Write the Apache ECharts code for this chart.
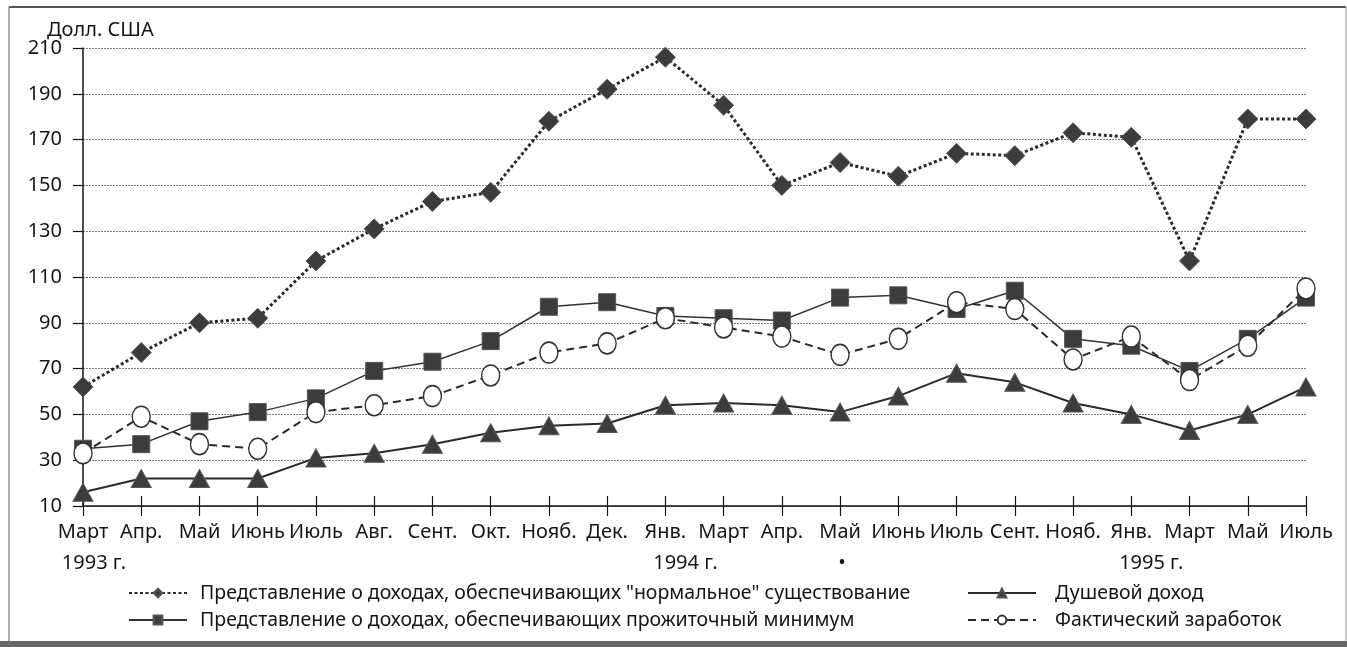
<!DOCTYPE html>
<html>
<head>
<meta charset="utf-8">
<script src="https://cdn.jsdelivr.net/npm/echarts@6/dist/echarts.min.js"></script>
<style>
html,body{margin:0;padding:0;background:#fff;}
#chart{width:1347px;height:647px;}
</style>
</head>
<body>
<div id="chart"></div>
<script>
const categories = ['Март','Апр.','Май','Июнь','Июль','Авг.','Сент.','Окт.','Нояб.','Дек.','Янв.','Март','Апр.','Май','Июнь','Июль','Сент.','Нояб.','Янв.','Март','Май','Июль'];
const yearLabels = {0:'1993 г.', 10:'1994 г.', 13:'•', 18:'1995 г.'};
const yTitle = 'Долл. США';

const seriesNames = [
  'Представление о доходах, обеспечивающих "нормальное" существование',
  'Представление о доходах, обеспечивающих прожиточный минимум',
  'Душевой доход',
  'Фактический заработок'
];
const normalIncome = [62,77,90,92,117,131,143,147,178,192,206,185,150,160,154,164,163,173,171,117,179,179];
const subsistenceIncome = [35,37,47,51,57,69,73,82,97,99,93,92,91,101,102,96,104,83,80,69,83,101];
const perCapitaIncome = [16,22,22,22,31,33,37,42,45,46,54,55,54,51,58,68,64,55,50,43,50,62];
const actualEarnings = [33,49,37,35,51,54,58,67,77,81,92,88,84,76,83,99,96,74,84,65,80,105];

const FONT = '"Noto Sans", sans-serif';
const INK = '#151515';
const MARK = '#3c3c3c';

const chart = echarts.init(document.getElementById('chart'), null, {renderer:'canvas'});

const option = {
  backgroundColor:'#fff',
  animation:false,
  textStyle:{fontFamily:FONT, color:INK},
  title:{
    text:yTitle, left:42, top:15,
    textStyle:{fontFamily:FONT, fontSize:20, fontWeight:'normal', color:INK}
  },
  grid:{left:83, right:41, top:48, bottom:141, containLabel:false},
  legend:[
    {
      left:123, top:578, orient:'vertical', itemGap:7, itemWidth:58, itemHeight:11,
      data:[seriesNames[0], seriesNames[1]],
      textStyle:{fontFamily:FONT, fontSize:19.5, color:INK, padding:[0,0,0,8]}
    },
    {
      left:962, top:578, orient:'vertical', itemGap:7, itemWidth:68, itemHeight:11,
      data:[seriesNames[2], seriesNames[3]],
      textStyle:{fontFamily:FONT, fontSize:19.5, color:INK, padding:[0,0,0,14]}
    }
  ],
  xAxis:[
    {
      type:'category', data:categories, boundaryGap:false,
      axisLine:{lineStyle:{color:INK, width:1.5}},
      axisTick:{show:true, inside:false, length:10, lineStyle:{color:INK, width:1.2}, alignWithLabel:true},
      axisLabel:{
        interval:0, margin:11, fontFamily:FONT, fontSize:20, color:INK, lineHeight:31,
        formatter:function(v, i){
          const y = yearLabels[i];
          if (!y) return '{m|' + v + '}';
          if (y === '•') return '{m|' + v + '}\n{d|' + y + '}';
          if (i === 0) return '{m|' + v + '}\n{y0|' + y + '}';
          return '{m|' + v + '}\n{yr|' + y + '}';
        },
        rich:{
          m:{fontFamily:FONT, fontSize:20, color:INK, lineHeight:31},
          y0:{fontFamily:FONT, fontSize:20, color:INK, lineHeight:31, padding:[0,0,0,22]},
          yr:{fontFamily:FONT, fontSize:20, color:INK, lineHeight:31, padding:[0,0,0,40]},
          d:{fontFamily:FONT, fontSize:20, color:INK, lineHeight:31, padding:[0,0,0,4]}
        }
      },
      splitLine:{show:false}
    },
    {
      type:'category', data:categories, boundaryGap:false, position:'bottom',
      axisLine:{show:false},
      axisTick:{show:true, inside:true, length:10, lineStyle:{color:INK, width:1.2}},
      axisLabel:{show:false},
      splitLine:{show:false}
    }
  ],
  yAxis:{
    type:'value', min:10, max:210, interval:20,
    axisLine:{show:true, lineStyle:{color:INK, width:1.5}},
    axisTick:{show:true, inside:false, length:10, lineStyle:{color:INK, width:1.2}},
    axisLabel:{margin:21, fontFamily:FONT, fontSize:20, color:INK},
    splitLine:{show:true, lineStyle:{color:'#7a7a7a', type:[2,1], width:1}}
  },
  series:[
    {
      name:seriesNames[0], type:'line', data:normalIncome,
      symbol:'diamond', symbolSize:20,
      lineStyle:{color:'#2a2a2a', width:3, type:[3,2.5]},
      itemStyle:{color:MARK, borderColor:'#555', borderWidth:1}
    },
    {
      name:seriesNames[1], type:'line', data:subsistenceIncome,
      symbol:'rect', symbolSize:17,
      lineStyle:{color:'#333', width:1.5, type:'solid'},
      itemStyle:{color:MARK, borderColor:'#555', borderWidth:1}
    },
    {
      name:seriesNames[2], type:'line', data:perCapitaIncome,
      symbol:'triangle', symbolSize:[20,18],
      lineStyle:{color:'#2a2a2a', width:2, type:'solid'},
      itemStyle:{color:MARK, borderColor:'#555', borderWidth:1}
    },
    {
      name:seriesNames[3], type:'line', data:actualEarnings,
      symbol:'circle', symbolSize:[18,21],
      lineStyle:{color:'#2a2a2a', width:2, type:[8,5]},
      itemStyle:{color:'#fff', borderColor:'#333', borderWidth:1.5}
    }
  ],
  graphic:[
    {type:'line', shape:{x1:9, y1:7, x2:1346, y2:7}, style:{stroke:'#555', lineWidth:2}, silent:true},
    {type:'line', shape:{x1:9, y1:7, x2:9, y2:641}, style:{stroke:'#777', lineWidth:1.2}, silent:true},
    {type:'line', shape:{x1:1346, y1:7, x2:1346, y2:641}, style:{stroke:'#999', lineWidth:1}, silent:true},
    {type:'rect', shape:{x:0, y:641, width:1347, height:6}, style:{fill:'#666'}, silent:true}
  ]
};
chart.setOption(option);
</script>
</body>
</html>
